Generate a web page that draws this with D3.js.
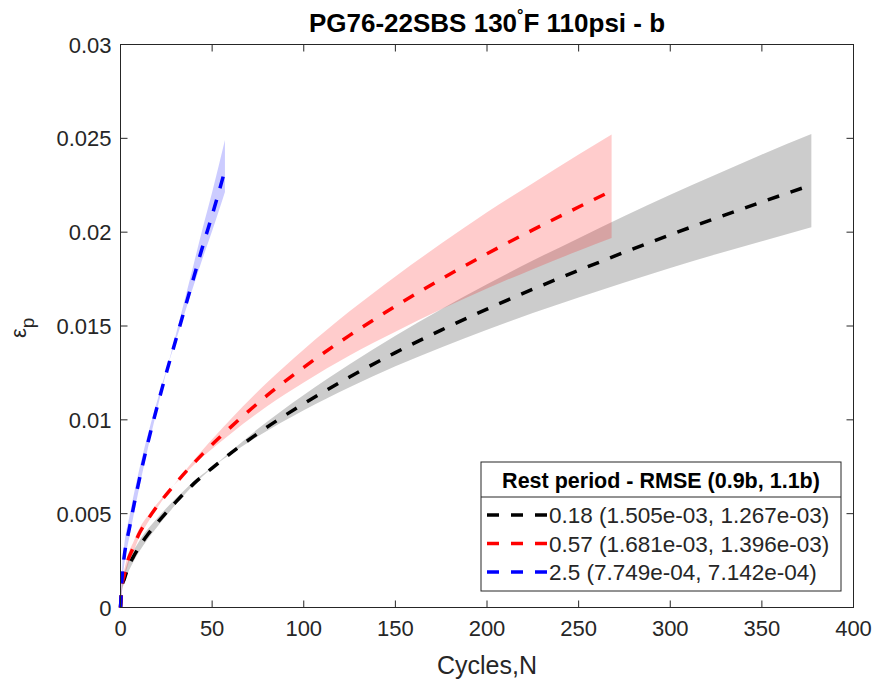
<!DOCTYPE html>
<html>
<head>
<meta charset="utf-8">
<script src="https://cdn.jsdelivr.net/npm/d3@7"></script>
<style>
  html, body { margin: 0; padding: 0; background: #fff; }
  text { font-family: "Liberation Sans", Arial, Helvetica, sans-serif; }
</style>
</head>
<body>
<div id="chart"></div>
<script>
const width = 874;
const height = 685;

// rest period 0.18
const cyclesA = [0, 1, 2, 4, 7, 10, 15, 20, 30, 40, 50, 75, 100, 125, 150, 175, 200, 225, 250, 275, 300, 325, 350, 377];
const strainA = [0, 0.0012, 0.0015, 0.0021, 0.0027, 0.0032, 0.0039, 0.0045, 0.0056, 0.0066, 0.00743, 0.00928, 0.01086, 0.01228, 0.01358, 0.01478, 0.0159, 0.01696, 0.01796, 0.01893, 0.01986, 0.02075, 0.02161, 0.02251];
const bandA11 = [0, 0.00097, 0.00126, 0.00183, 0.00243, 0.00294, 0.00366, 0.00429, 0.00547, 0.00654, 0.00745, 0.00952, 0.01132, 0.01296, 0.01448, 0.01589, 0.01722, 0.01849, 0.01968, 0.02086, 0.02199, 0.02307, 0.02414, 0.02523];
const bandA09 = [0, 0.00150, 0.00180, 0.00243, 0.00302, 0.00351, 0.00419, 0.00476, 0.00579, 0.00672, 0.00747, 0.00912, 0.01051, 0.01174, 0.01285, 0.01386, 0.01480, 0.01569, 0.01652, 0.01732, 0.01809, 0.01882, 0.01951, 0.02026];

// rest period 0.57
const cyclesB = [0, 1, 2, 4, 7, 10, 15, 20, 30, 45, 60, 80, 100, 125, 150, 175, 200, 225, 250, 268];
const strainB = [0, 0.0013, 0.0017, 0.0025, 0.0032, 0.0039, 0.0047, 0.0054, 0.0066, 0.0082, 0.0096, 0.0113, 0.0128, 0.0145, 0.01605, 0.0175, 0.01885, 0.02012, 0.02134, 0.0222];
const bandB11 = [0, 0.00108, 0.00147, 0.00225, 0.00296, 0.00369, 0.00454, 0.00530, 0.00663, 0.00842, 0.01002, 0.01199, 0.01375, 0.01578, 0.01764, 0.01939, 0.02106, 0.02261, 0.02414, 0.02520];
const bandB09 = [0, 0.00158, 0.00198, 0.00281, 0.00348, 0.00416, 0.00490, 0.00554, 0.00661, 0.00804, 0.00925, 0.01072, 0.01199, 0.01343, 0.01470, 0.01589, 0.01700, 0.01803, 0.01901, 0.01969];

// rest period 2.5
const cyclesC = [0, 1, 2, 5, 10, 15, 20, 25, 30, 35, 40, 45, 50, 57];
const strainC = [0, 0.0018, 0.0027, 0.0043, 0.0067, 0.0088, 0.0107, 0.0125, 0.0142, 0.0159, 0.0176, 0.0193, 0.0209, 0.0233];
const bandC11 = [0, 0.00142, 0.00225, 0.00383, 0.00628, 0.00851, 0.01057, 0.01256, 0.01447, 0.01639, 0.01832, 0.02027, 0.02213, 0.02491];
const bandC09 = [0, 0.00232, 0.00330, 0.00491, 0.00726, 0.00924, 0.01100, 0.01264, 0.01416, 0.01568, 0.01718, 0.01866, 0.02006, 0.02214];

const legendLabels = ["0.18 (1.505e-03, 1.267e-03)", "0.57 (1.681e-03, 1.396e-03)", "2.5 (7.749e-04, 7.142e-04)"];
const colors = ["#000000", "#ff0000", "#0000ff"];

const xTicks = [0, 50, 100, 150, 200, 250, 300, 350, 400];
const yTicks = [0, 0.005, 0.01, 0.015, 0.02, 0.025, 0.03];

const x = d3.scaleLinear().domain([0, 400]).range([120.5, 853.5]);
const y = d3.scaleLinear().domain([0, 0.03]).range([607.5, 44.5]);

const series = [
  { n: cyclesA, m: strainA, lo: bandA11, hi: bandA09 },
  { n: cyclesB, m: strainB, lo: bandB11, hi: bandB09 },
  { n: cyclesC, m: strainC, lo: bandC11, hi: bandC09 }
].map((s, k) => ({
  color: colors[k],
  label: legendLabels[k],
  pts: s.n.map((v, i) => ({ n: v, m: s.m[i], lo: s.lo[i], hi: s.hi[i] }))
}));

const area = d3.area()
    .curve(d3.curveMonotoneX)
    .x(d => x(d.n))
    .y0(d => y(d.lo))
    .y1(d => y(d.hi));

const line = d3.line()
    .curve(d3.curveMonotoneX)
    .x(d => x(d.n))
    .y(d => y(d.m));

const svg = d3.select("#chart")
    .append("svg")
    .attr("width", width)
    .attr("height", height)
    .attr("viewBox", `0 0 ${width} ${height}`);

const axisColor = "#262626";
const x0 = x.range()[0], x1 = x.range()[1];
const y0 = y.range()[0], y1 = y.range()[1];
const dash = "12,12";

// bandes et courbes
series.forEach(s => {
  svg.append("path")
      .attr("d", area(s.pts))
      .attr("fill", s.color)
      .attr("fill-opacity", 0.2)
      .attr("stroke", "none");
  svg.append("path")
      .attr("d", line(s.pts))
      .attr("fill", "none")
      .attr("stroke", s.color)
      .attr("stroke-width", 3.5)
      .attr("stroke-dasharray", dash);
});

// cadre et graduations (vers l'intérieur, sur les quatre côtés)
const tickLen = 7;
const g = svg.append("g").attr("stroke", axisColor).attr("stroke-width", 1);
xTicks.forEach(t => {
  g.append("line").attr("x1", x(t)).attr("x2", x(t)).attr("y1", y0).attr("y2", y0 - tickLen);
  g.append("line").attr("x1", x(t)).attr("x2", x(t)).attr("y1", y1).attr("y2", y1 + tickLen);
});
yTicks.forEach(t => {
  g.append("line").attr("x1", x0).attr("x2", x0 + tickLen).attr("y1", y(t)).attr("y2", y(t));
  g.append("line").attr("x1", x1).attr("x2", x1 - tickLen).attr("y1", y(t)).attr("y2", y(t));
});
g.append("rect")
    .attr("x", x0).attr("y", y1)
    .attr("width", x1 - x0).attr("height", y0 - y1)
    .attr("fill", "none");

svg.append("g")
    .selectAll("text")
    .data(xTicks)
    .join("text")
    .attr("x", d => x(d))
    .attr("y", y0 + 28)
    .attr("text-anchor", "middle")
    .attr("font-size", 22)
    .attr("fill", axisColor)
    .text(d => d);

svg.append("g")
    .selectAll("text")
    .data(yTicks)
    .join("text")
    .attr("x", x0 - 9)
    .attr("y", d => y(d) + 8)
    .attr("text-anchor", "end")
    .attr("font-size", 22)
    .attr("fill", axisColor)
    .text(d => d === 0 ? "0" : String(d));

// titres
const title = svg.append("text")
    .attr("x", (x0 + x1) / 2)
    .attr("y", 32)
    .attr("text-anchor", "middle")
    .attr("font-size", 26)
    .attr("font-weight", "bold")
    .attr("fill", "#000");
title.append("tspan").text("PG76-22SBS 130");
title.append("tspan").attr("font-size", 16).attr("dy", -11).text("°");
title.append("tspan").attr("dy", 11).text("F 110psi - b");

svg.append("text")
    .attr("x", (x0 + x1) / 2)
    .attr("y", 674)
    .attr("text-anchor", "middle")
    .attr("font-size", 25)
    .attr("fill", axisColor)
    .text("Cycles,N");

const ylab = svg.append("text")
    .attr("transform", "translate(26,338) rotate(-90)")
    .attr("font-size", 22)
    .attr("fill", axisColor);
ylab.append("tspan").text("ε");
ylab.append("tspan").attr("font-size", 19).attr("dy", 8).text("p");

// légende
const lg = { x: 481, y: 462, w: 360, h: 129, head: 35 };
svg.append("rect")
    .attr("x", lg.x).attr("y", lg.y)
    .attr("width", lg.w).attr("height", lg.h)
    .attr("fill", "#fff")
    .attr("stroke", axisColor)
    .attr("stroke-width", 1);
svg.append("line")
    .attr("x1", lg.x).attr("x2", lg.x + lg.w)
    .attr("y1", lg.y + lg.head).attr("y2", lg.y + lg.head)
    .attr("stroke", axisColor);
svg.append("text")
    .attr("x", lg.x + lg.w / 2)
    .attr("y", lg.y + 26)
    .attr("text-anchor", "middle")
    .attr("font-size", 21.5)
    .attr("font-weight", "bold")
    .attr("fill", "#000")
    .text("Rest period - RMSE (0.9b, 1.1b)");

series.forEach((s, i) => {
  const ly = 515 + i * 28.5;
  svg.append("line")
      .attr("x1", lg.x + 6).attr("x2", lg.x + 66)
      .attr("y1", ly).attr("y2", ly)
      .attr("stroke", s.color)
      .attr("stroke-width", 3.5)
      .attr("stroke-dasharray", dash);
  svg.append("text")
      .attr("x", lg.x + 68)
      .attr("y", ly + 8)
      .attr("font-size", 22.5)
      .attr("fill", axisColor)
      .text(s.label);
});
</script>
</body>
</html>
